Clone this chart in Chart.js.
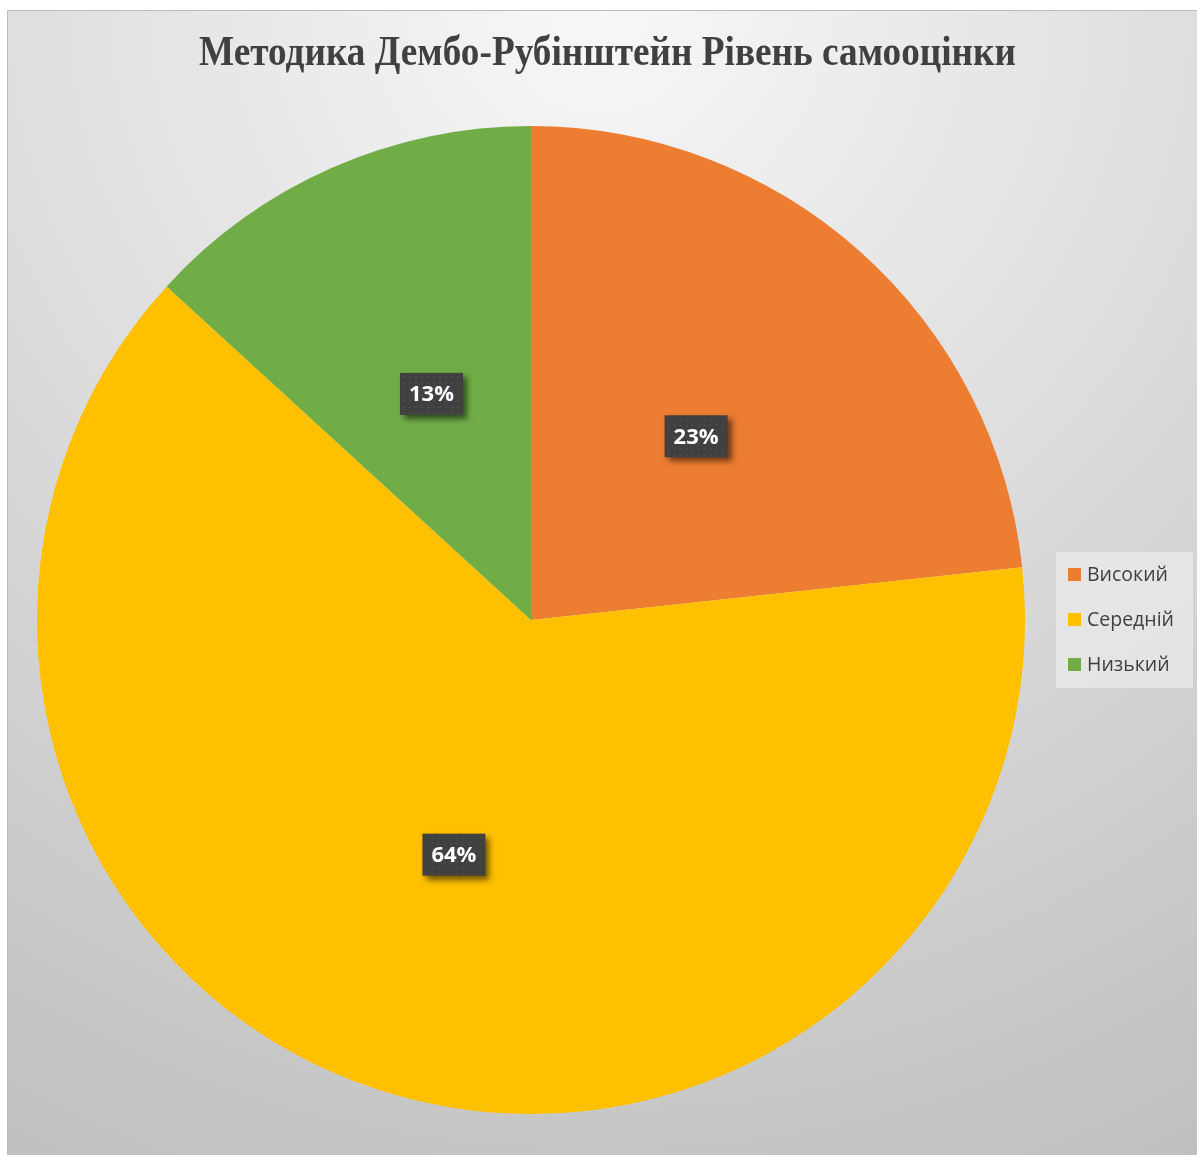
<!DOCTYPE html>
<html>
<head>
<meta charset="utf-8">
<script src="https://cdn.jsdelivr.net/npm/chart.js@4"></script>
<style>
  html, body { margin: 0; padding: 0; background: #fff; }
  #wrap { width: 1197px; height: 1155px; }
</style>
</head>
<body>
<div id="wrap"><canvas id="pieChart" width="1197" height="1155"></canvas></div>
<script>
// chart data
const chartTitle = 'Методика Дембо-Рубінштейн Рівень самооцінки';
const categories = ['Високий', 'Середній', 'Низький'];
const percentValues = [23.3, 63.5, 13.2];
const sliceColors = ['#ED7D31', '#FFC000', '#70AD47'];

// background, border and title
const backgroundPlugin = {
  id: 'bgPlugin',
  beforeDraw: (chart) => {
    const ctx = chart.ctx;
    ctx.save();
    ctx.fillStyle = '#ffffff';
    ctx.fillRect(0, 0, chart.width, chart.height);
    const grad = ctx.createRadialGradient(600, 0, 0, 600, 0, 1300);
    grad.addColorStop(0, '#f8f8f8');
    grad.addColorStop(1, '#bfbfbf');
    ctx.fillStyle = grad;
    ctx.fillRect(7, 10, chart.width - 7, chart.height - 10);
    ctx.strokeStyle = '#bcbcbc';
    ctx.lineWidth = 1;
    ctx.beginPath();
    ctx.moveTo(7.5, chart.height);
    ctx.lineTo(7.5, 10.5);
    ctx.lineTo(chart.width, 10.5);
    ctx.stroke();

    // title, squeezed to the width seen in the reference
    ctx.font = 'bold 42px "Liberation Serif", "Times New Roman", serif';
    ctx.fillStyle = '#404040';
    ctx.textBaseline = 'alphabetic';
    const w = ctx.measureText(chartTitle).width;
    const targetW = 817;
    ctx.translate(607.5, 65);
    ctx.scale(targetW / w, 1);
    ctx.textAlign = 'center';
    ctx.fillText(chartTitle, 0, 0);
    ctx.restore();
  }
};

// dark percent labels in the middle of each slice + legend
const labelPlugin = {
  id: 'labelPlugin',
  afterDatasetsDraw: (chart) => {
    const ctx = chart.ctx;
    const meta = chart.getDatasetMeta(0);
    const data = chart.data.datasets[0].data;
    const total = data.reduce((a, b) => a + b, 0);
    meta.data.forEach((arc, i) => {
      const pos = arc.tooltipPosition();
      const text = Math.round(data[i] / total * 100) + '%';
      const bw = 63, bh = 42;
      const x = pos.x - bw / 2, y = pos.y - bh / 2;
      ctx.save();
      ctx.shadowColor = 'rgba(0,0,0,0.55)';
      ctx.shadowBlur = 6;
      ctx.shadowOffsetX = 4;
      ctx.shadowOffsetY = 4;
      ctx.fillStyle = '#404040';
      ctx.fillRect(x, y, bw, bh);
      ctx.restore();
      // faint dot texture
      ctx.save();
      ctx.fillStyle = 'rgba(255,255,255,0.06)';
      for (let dx = 3; dx < bw; dx += 6) {
        for (let dy = 3; dy < bh; dy += 6) {
          ctx.fillRect(x + dx, y + dy, 2, 2);
        }
      }
      ctx.font = 'bold 22px "Open Sans", "DejaVu Sans", sans-serif';
      ctx.fillStyle = '#ffffff';
      ctx.textAlign = 'center';
      ctx.textBaseline = 'middle';
      ctx.fillText(text, pos.x, pos.y + 1);
      ctx.restore();
    });

    // legend
    ctx.save();
    ctx.fillStyle = 'rgba(240,240,240,0.6)';
    ctx.fillRect(1056, 552, 137, 136);
    ctx.font = '19.5px "Open Sans", "DejaVu Sans", sans-serif';
    ctx.textBaseline = 'middle';
    ctx.textAlign = 'left';
    chart.data.labels.forEach((lbl, i) => {
      const cy = 575 + i * 45;
      ctx.fillStyle = chart.data.datasets[0].backgroundColor[i];
      ctx.fillRect(1068, cy - 7, 13, 13);
      ctx.fillStyle = '#404040';
      ctx.fillText(lbl, 1087, cy);
    });
    ctx.restore();
  }
};

const ctx = document.getElementById('pieChart').getContext('2d');
const pieChart = new Chart(ctx, {
  type: 'pie',
  data: {
    labels: categories,
    datasets: [{
      data: percentValues,
      backgroundColor: sliceColors,
      borderWidth: 0,
    }],
  },
  options: {
    responsive: false,
    animation: false,
    layout: {
      padding: { left: 37, right: 172, top: 126, bottom: 41 },
    },
    plugins: {
      legend: { display: false },
      tooltip: { enabled: false },
      title: { display: false },
    },
  },
  plugins: [backgroundPlugin, labelPlugin],
});
</script>
</body>
</html>
